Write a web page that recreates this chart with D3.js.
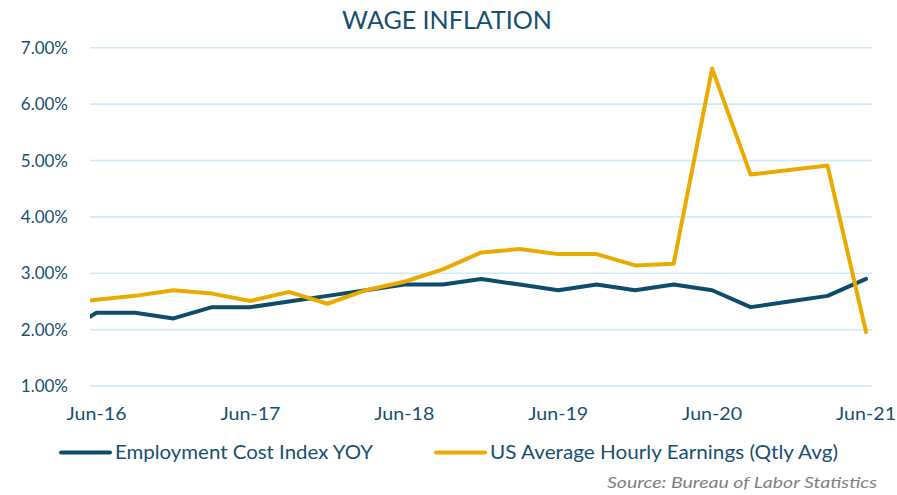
<!DOCTYPE html>
<html>
<head>
<meta charset="utf-8">
<script src="https://cdn.jsdelivr.net/npm/d3@7"></script>
<style>
  body { margin: 0; background: #fff; }
  svg { display: block; font-family: Lato, "Open Sans", sans-serif; }
</style>
</head>
<body>
<svg id="chart"></svg>
<script>
// quarter labels, Mar-16 sits just left of the plot and gets clipped
var quarters = ["Mar-16","Jun-16","Sep-16","Dec-16","Mar-17","Jun-17","Sep-17","Dec-17",
  "Mar-18","Jun-18","Sep-18","Dec-18","Mar-19","Jun-19","Sep-19","Dec-19",
  "Mar-20","Jun-20","Sep-20","Dec-20","Mar-21","Jun-21"];
var eciValues = [1.9,2.3,2.3,2.2,2.4,2.4,2.5,2.6,2.7,2.8,2.8,2.9,2.8,2.7,2.8,2.7,2.8,2.7,2.4,2.5,2.6,2.9];
var aheValues = [2.45,2.53,2.6,2.7,2.64,2.51,2.67,2.46,2.7,2.85,3.07,3.37,3.43,3.34,3.34,3.14,3.17,6.63,4.75,4.83,4.91,1.96];
var xTickLabels = ["Jun-16","Jun-17","Jun-18","Jun-19","Jun-20","Jun-21"];
var yTicks = [1,2,3,4,5,6,7];
var seriesNames = ["Employment Cost Index YOY","US Average Hourly Earnings (Qtly Avg)"];

var width = 897, height = 495;
var textColor = "#17506e";
var eciColor = "#0d4d6b", aheColor = "#eaab00";

var svg = d3.select("#chart").attr("width", width).attr("height", height);

// index 1 = Jun-16, index 21 = Jun-21
var x = d3.scaleLinear().domain([1 - 0.17, 21 + 0.155]).range([90, 872]);
var y = d3.scaleLinear().domain([1, 7]).range([386.1, 47.7]);

// gridlines
svg.append("g").selectAll("line").data(yTicks).enter().append("line")
  .attr("x1", 90).attr("x2", 872)
  .attr("y1", function(d){ return y(d); }).attr("y2", function(d){ return y(d); })
  .attr("stroke", "#cdebf8").attr("stroke-width", 1.6);

// y labels
svg.append("g").selectAll("text").data(yTicks).enter().append("text")
  .attr("x", 68).attr("y", function(d){ return y(d) + 6; })
  .attr("text-anchor", "end").attr("fill", textColor).attr("font-size", 17)
  .text(function(d){ return d3.format(".2f")(d) + "%"; });

// x labels
svg.append("g").selectAll("text").data(xTickLabels).enter().append("text")
  .attr("x", function(d){ return x(quarters.indexOf(d)) - 30; }).attr("y", 420)
  .attr("fill", textColor).attr("font-size", 17.5)
  .attr("textLength", 60).attr("lengthAdjust", "spacingAndGlyphs")
  .text(function(d){ return d; });

svg.append("clipPath").attr("id", "plotClip").append("rect")
  .attr("x", 90).attr("y", 0).attr("width", 790).attr("height", 400);

var line = d3.line()
  .x(function(d, i){ return x(i); })
  .y(function(d){ return y(d); });

var plot = svg.append("g").attr("clip-path", "url(#plotClip)");
plot.append("path").datum(eciValues).attr("d", line)
  .attr("fill", "none").attr("stroke", eciColor).attr("stroke-width", 4)
  .attr("stroke-linejoin", "round").attr("stroke-linecap", "round");
plot.append("path").datum(aheValues).attr("d", line)
  .attr("fill", "none").attr("stroke", aheColor).attr("stroke-width", 4)
  .attr("stroke-linejoin", "round").attr("stroke-linecap", "round");

// title
svg.append("text").attr("x", 447).attr("y", 29).attr("text-anchor", "middle")
  .attr("fill", textColor).attr("font-size", 25)
  .attr("textLength", 210).attr("lengthAdjust", "spacingAndGlyphs")
  .text("WAGE INFLATION");

// legend
var legend = [
  {name: seriesNames[0], color: eciColor, x1: 61, x2: 110, tx: 115, tw: 258},
  {name: seriesNames[1], color: aheColor, x1: 436, x2: 485, tx: 490, tw: 348}
];
var lg = svg.append("g").selectAll("g").data(legend).enter().append("g");
lg.append("line")
  .attr("x1", function(d){ return d.x1; }).attr("x2", function(d){ return d.x2; })
  .attr("y1", 452.5).attr("y2", 452.5)
  .attr("stroke", function(d){ return d.color; }).attr("stroke-width", 4)
  .attr("stroke-linecap", "round");
lg.append("text")
  .attr("x", function(d){ return d.tx; }).attr("y", 459)
  .attr("fill", textColor).attr("font-size", 19)
  .attr("textLength", function(d){ return d.tw; }).attr("lengthAdjust", "spacingAndGlyphs")
  .text(function(d){ return d.name; });

// source
svg.append("text").attr("x", 877).attr("y", 488).attr("text-anchor", "end")
  .attr("fill", "#7f7f7f").attr("font-size", 16).attr("font-style", "italic")
  .attr("textLength", 270).attr("lengthAdjust", "spacingAndGlyphs")
  .text("Source: Bureau of Labor Statistics");
</script>
</body>
</html>
